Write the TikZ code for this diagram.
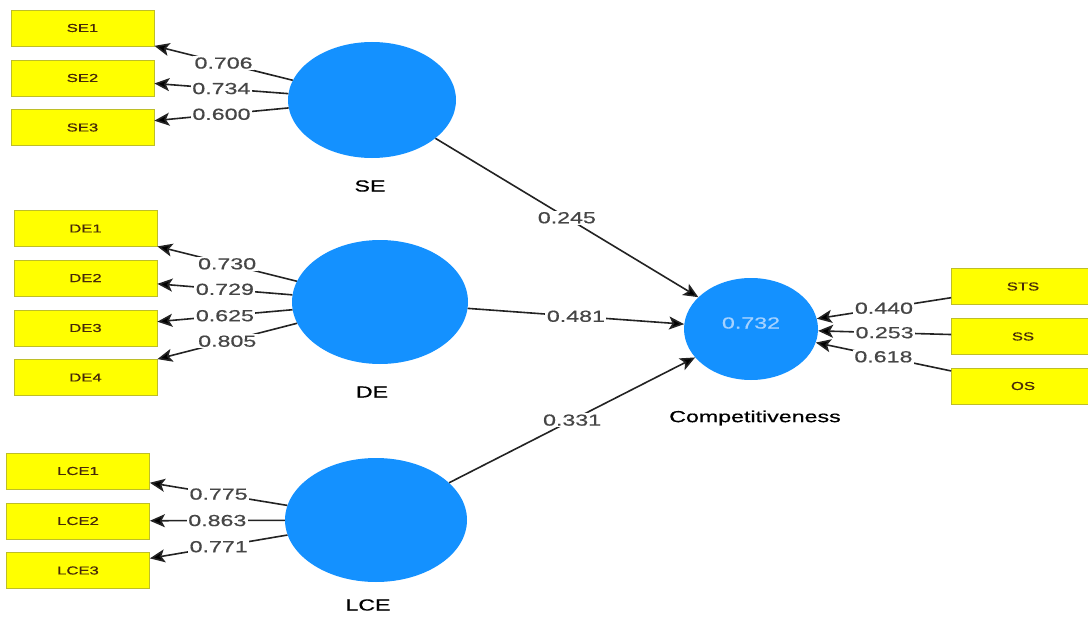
\documentclass[tikz,border=0pt]{standalone}
\usepackage{fontspec}
\setmainfont{Liberation Sans}
\newfontfamily\wfont[FakeStretch=1.45,FakeBold=0.6]{Liberation Sans}
\usetikzlibrary{shapes.geometric,arrows.meta}
\definecolor{lvblue}{RGB}{20,145,255}
\definecolor{indyellow}{RGB}{255,255,0}
\definecolor{indborder}{RGB}{190,190,40}
\definecolor{indtext}{RGB}{70,40,10}
\definecolor{labgray}{RGB}{70,70,70}
\definecolor{linecol}{RGB}{35,35,35}
\definecolor{r2text}{RGB}{165,210,255}
\begin{document}
\begin{tikzpicture}[x=1pt,y=-1pt,
 ind/.style={draw=indborder, line width=0.8pt, fill=indyellow, minimum width=143pt, minimum height=36pt, inner sep=0pt, text=indtext, font=\wfont\fontsize{11.5}{12}\selectfont},
 lv/.style={ellipse, fill=lvblue, inner sep=0pt},
 conn/.style={draw=linecol, line width=1.6pt, -{Stealth[length=15pt,width=13pt,inset=3.5pt,fill=black]}},
 lab/.style={fill=white, inner sep=1.5pt, text=labgray, font=\wfont\fontsize{16}{18}\selectfont},
 lvname/.style={text=black, font=\wfont\fontsize{16}{18}\selectfont}]
\clip (0,0) rectangle (1088,618);
\fill[white] (0,0) rectangle (1088,618);

% indicators
\node[ind] (SE1) at (82.5,28) {SE1};
\node[ind] (SE2) at (82.5,78) {SE2};
\node[ind] (SE3) at (82.5,127.5) {SE3};
\node[ind] (DE1) at (85.5,228.5) {DE1};
\node[ind] (DE2) at (85.5,278) {DE2};
\node[ind] (DE3) at (85.5,328) {DE3};
\node[ind] (DE4) at (85.5,377.5) {DE4};
\node[ind] (LCE1) at (78,471) {LCE1};
\node[ind] (LCE2) at (78,521) {LCE2};
\node[ind] (LCE3) at (78,570.5) {LCE3};
\node[ind] (STS) at (1023,286.5) {STS};
\node[ind] (SS) at (1023,336.5) {SS};
\node[ind] (OS) at (1023,386) {OS};

% latent variables
\node[lv, minimum width=168pt, minimum height=116pt] (SE) at (372,100) {};
\node[lv, minimum width=176pt, minimum height=124pt] (DE) at (380,302) {};
\node[lv, minimum width=182pt, minimum height=124pt] (LCE) at (376,520) {};
\node[lv, minimum width=134pt, minimum height=102pt] (Comp) at (751,329) {};
\node[text=r2text, font=\wfont\fontsize{16}{18}\selectfont] (r2) at (751,323) {0.732};

\node[lvname] (SEn) at (370,186) {SE};
\node[lvname] (DEn) at (372,392) {DE};
\node[lvname] (LCEn) at (368,605) {LCE};
\node[lvname] (Compn) at (755,418) {Competitiveness};

% outer loadings
\draw[conn] (SE) -- node[lab, midway] {0.706} (SE1);
\draw[conn] (SE) -- node[lab, midway] {0.734} (SE2);
\draw[conn] (SE) -- node[lab, midway] {0.600} (SE3);
\draw[conn] (DE) -- node[lab, midway] {0.730} (DE1);
\draw[conn] (DE) -- node[lab, midway] {0.729} (DE2);
\draw[conn] (DE) -- node[lab, midway] {0.625} (DE3);
\draw[conn] (DE) -- node[lab, midway] {0.805} (DE4);
\draw[conn] (LCE) -- node[lab, midway] {0.775} (LCE1);
\draw[conn] (LCE) -- node[lab, midway] {0.863} (LCE2);
\draw[conn] (LCE) -- node[lab, midway] {0.771} (LCE3);
\draw[conn] (STS) -- node[lab, midway] {0.440} (Comp);
\draw[conn] (SS) -- node[lab, midway] {0.253} (Comp);
\draw[conn] (OS) -- node[lab, midway] {0.618} (Comp);

% structural paths
\draw[conn] (SE) -- node[lab, midway] {0.245} (Comp);
\draw[conn] (DE) -- node[lab, midway] {0.481} (Comp);
\draw[conn] (LCE) -- node[lab, midway] {0.331} (Comp);
\end{tikzpicture}
\end{document}
